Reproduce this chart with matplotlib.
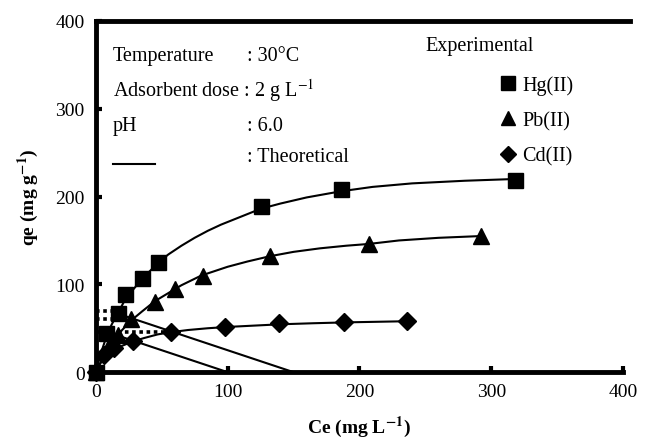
import numpy as np, matplotlib
matplotlib.use("Agg")
import matplotlib.pyplot as plt
from matplotlib.lines import Line2D

plt.rcParams['font.family'] = ['Liberation Serif', 'DejaVu Serif']
plt.rcParams['mathtext.fontset'] = 'stix'

# experimental points (Ce mg/L, qe mg/g)
hg_ce = [0, 8, 17, 22.5, 35, 47, 125, 186, 318]
hg_qe = [0, 45, 67, 89, 107, 125, 189, 209, 219]
pb_ce = [0, 10, 17, 27, 45, 60, 81, 132, 207, 292]
pb_qe = [0, 30, 42, 60, 80, 95, 109, 132, 146, 155]
cd_ce = [0, 6, 14, 28, 57, 98, 139, 188, 236]
cd_qe = [0, 20, 28, 36, 46, 51, 56, 57, 58.5]

# theoretical isotherms
hg_fit_ce = [0, 4, 8, 12, 17, 21, 25, 30, 35, 41, 47, 55, 65, 75, 85, 95, 105,
             115, 125, 140, 160, 186, 210, 240, 280, 318]
hg_fit_qe = [0, 22, 40, 54, 68, 79, 88, 97, 106, 115, 124, 134, 144, 153, 161,
             168, 174, 180, 186, 192, 199, 206, 211, 215, 218, 220]
pb_fit_ce = [0, 5, 10, 15, 20, 27, 35, 45, 55, 65, 80, 90, 100, 115, 132, 150,
             170, 190, 207, 230, 260, 292]
pb_fit_qe = [0, 15, 28, 39, 48, 59, 69, 81, 90, 99, 110, 115, 120, 126, 132,
             137, 141, 144, 146, 150, 153, 155]
cd_fit_ce = [0, 3, 6, 10, 15, 20, 28, 37, 47, 57, 70, 85, 100, 120, 140, 165,
             190, 236]
cd_fit_qe = [0, 9, 15, 21, 26, 30, 35, 39, 43, 45.5, 48, 50, 51.5, 53, 54.5,
             55.7, 56.7, 58]

# operating lines, qe = (C0 - Ce) / dose, dose = 2 g/L
c0_values = [150, 100]
op_start_ce = [16, 8]
dose = 2.0

# dotted guides from the qe axis to the intersection points
guide_qe = [70, 60, 46]
guide_end_ce = [12, 12, 57]

fig = plt.figure(figsize=(6.47, 4.39), dpi=100)
ax = fig.add_axes([0.148, 0.150, 0.815, 0.800])

for qe, ce in zip(guide_qe, guide_end_ce):
    ax.plot([0, ce], [qe, qe], color='k', lw=2.6, ls=(0, (1, 1)), zorder=2)

for c0, cs in zip(c0_values, op_start_ce):
    ce = np.array([cs, c0])
    ax.plot(ce, (c0 - ce) / dose, color='k', lw=1.5, zorder=2)

ax.plot(hg_fit_ce, hg_fit_qe, color='k', lw=1.5, zorder=2)
ax.plot(pb_fit_ce, pb_fit_qe, color='k', lw=1.5, zorder=2)
ax.plot(cd_fit_ce, cd_fit_qe, color='k', lw=1.5, zorder=2)

mk = dict(ls='none', color='k', mec='k', zorder=3, clip_on=False)
h1, = ax.plot(hg_ce, hg_qe, marker='s', ms=10.8, **mk)
h2, = ax.plot(pb_ce, pb_qe, marker='^', ms=11.8, **mk)
h3, = ax.plot(cd_ce, cd_qe, marker='D', ms=8.8, **mk)

ax.set_xlim(0, 400)
ax.set_ylim(0, 400)
ax.set_xticks([0, 100, 200, 300, 400])
ax.set_yticks([0, 100, 200, 300, 400])
ax.tick_params(direction='in', length=4, width=3, labelsize=14, pad=8)
for s in ['left', 'bottom', 'top']:
    ax.spines[s].set_linewidth(3.5)
ax.spines['right'].set_visible(False)
ax.spines['top'].set_bounds(0, 405)
ax.spines['top'].set_clip_on(False)

ax.set_xlabel(r'Ce (mg L$^{\mathbf{-1}}$)', fontsize=14, fontweight='bold', labelpad=10)
ax.set_ylabel(r'qe (mg g$^{\mathbf{-1}}$)', fontsize=14, fontweight='bold', labelpad=10)

fs = 14.5
tr = ax.transAxes
ax.text(0.032, 0.901, 'Temperature', transform=tr, fontsize=fs, va='center')
ax.text(0.286, 0.901, ': 30°C', transform=tr, fontsize=fs, va='center')
ax.text(0.032, 0.806, r'Adsorbent dose : 2 g L$^{-1}$', transform=tr, fontsize=fs, va='center')
ax.text(0.032, 0.702, 'pH', transform=tr, fontsize=fs, va='center')
ax.text(0.286, 0.702, ': 6.0', transform=tr, fontsize=fs, va='center')
ax.plot([0.032, 0.112], [0.592, 0.592], transform=tr, color='k', lw=1.5)
ax.text(0.286, 0.613, ': Theoretical', transform=tr, fontsize=fs, va='center')

ax.text(0.626, 0.93, 'Experimental', transform=tr, fontsize=fs, va='center')
handles = [Line2D([], [], ls='none', marker=m, color='k', ms=s)
           for m, s in [('s', 10), ('^', 10.5), ('D', 8)]]
ax.legend(handles, ['Hg(II)', 'Pb(II)', 'Cd(II)'], loc='upper left',
          bbox_to_anchor=(0.763, 0.845), frameon=False, fontsize=fs,
          handlelength=1.0, handletextpad=0.2, labelspacing=0.8,
          borderpad=0, borderaxespad=0)

fig.savefig('out.png', dpi=100)
